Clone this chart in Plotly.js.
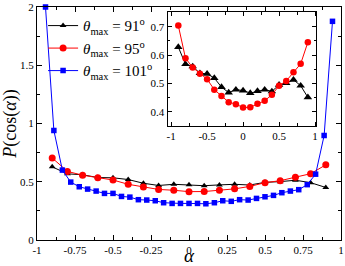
<!DOCTYPE html>
<html>
<head>
<meta charset="utf-8">
<script src="https://cdn.plot.ly/plotly-3.0.1.min.js"></script>
<style>html,body{margin:0;padding:0;background:#fff;}#chart{width:345px;height:266px;}</style>
</head>
<body>
<div id="chart"></div>
<script>
// theta_max = 91 and 95 series (step 0.1)
var alpha10 = [-0.9,-0.8,-0.7,-0.6,-0.5,-0.4,-0.3,-0.2,-0.1,0,0.1,0.2,0.3,0.4,0.5,0.6,0.7,0.8,0.9];
var p91 = [0.628,0.568,0.560,0.536,0.534,0.519,0.487,0.468,0.478,0.475,0.466,0.473,0.478,0.472,0.495,0.501,0.513,0.492,0.451];
var p95 = [0.704,0.589,0.556,0.534,0.515,0.478,0.456,0.434,0.427,0.415,0.416,0.428,0.439,0.460,0.492,0.509,0.539,0.569,0.645];
// theta_max = 101 series
var alpha18 = [-0.944,-0.889,-0.833,-0.778,-0.722,-0.667,-0.611,-0.556,-0.5,-0.444,-0.389,-0.333,-0.278,-0.222,-0.167,-0.111,-0.056,0,
               0.056,0.111,0.167,0.222,0.278,0.333,0.389,0.444,0.5,0.556,0.611,0.667,0.722,0.778,0.833,0.889,0.944];
var p101 = [2.0,0.94,0.60,0.497,0.457,0.437,0.42,0.40,0.40,0.374,0.368,0.346,0.343,0.337,0.32,0.314,0.314,0.314,
            0.314,0.311,0.32,0.337,0.332,0.346,0.343,0.357,0.371,0.383,0.406,0.42,0.432,0.475,0.565,0.897,1.877];

var names = ['<i>θ</i><sub>max</sub> = 91<sup>o</sup>', '<i>θ</i><sub>max</sub> = 95<sup>o</sup>', '<i>θ</i><sub>max</sub> = 101<sup>o</sup>'];
var xTitle = '<i>α</i>';
var yTitle = '<i>P</i>(cos(<i>α</i>))';

var mainXTicks = [-1,-0.75,-0.5,-0.25,0,0.25,0.5,0.75,1];
var mainXLabels = ['-1','-0.75','-0.5','-0.25','0','0.25','0.5','0.75','1'];
var mainYTicks = [0,0.5,1,1.5,2];
var mainYLabels = ['0','0.5','1','1.5','2'];
var insetXTicks = [-1,-0.5,0,0.5,1];
var insetXLabels = ['-1','-0.5','0','0.5','1'];
var insetYTicks = [0.4,0.5,0.6,0.7];
var insetYLabels = ['0.4','0.5','0.6','0.7'];

var FONT = 'Liberation Serif';

var traces = [
  {x: alpha10, y: p91, name: names[0], mode: 'lines+markers', line: {color: '#000', width: 1},
   marker: {symbol: 'triangle-up', size: 6, color: '#000'}},
  {x: alpha10, y: p95, name: names[1], mode: 'lines+markers', line: {color: '#ff0000', width: 1},
   marker: {symbol: 'circle', size: 7, color: '#ff0000'}},
  {x: alpha18, y: p101, name: names[2], mode: 'lines+markers', line: {color: '#0000ff', width: 1},
   marker: {symbol: 'square', size: 5.5, color: '#0000ff'}, cliponaxis: false},
  {x: alpha10, y: p91, xaxis: 'x2', yaxis: 'y2', showlegend: false, mode: 'lines+markers',
   line: {color: '#000', width: 1}, marker: {symbol: 'triangle-up', size: 7.5, color: '#000'}},
  {x: alpha10, y: p95, xaxis: 'x2', yaxis: 'y2', showlegend: false, mode: 'lines+markers',
   line: {color: '#ff0000', width: 1}, marker: {symbol: 'circle', size: 6.5, color: '#ff0000'}}
];

var axisBase = {
  showline: true, linecolor: '#000', linewidth: 1, mirror: 'ticks',
  ticks: 'inside', ticklen: 5, tickwidth: 1, tickcolor: '#000',
  showgrid: false, zeroline: false, tickmode: 'array',
  tickfont: {family: FONT, size: 11, color: '#000'}
};
function ax(extra) { return Object.assign({}, axisBase, extra); }

var layout = {
  width: 345, height: 266,
  margin: {l: 37, r: 4, t: 7, b: 26, pad: 0},
  paper_bgcolor: '#fff', plot_bgcolor: '#fff',
  font: {family: FONT, color: '#000'},
  showlegend: true,
  legend: {x: 0.02, y: 0.99, xanchor: 'left', yanchor: 'top', bgcolor: 'rgba(0,0,0,0)',
           font: {family: FONT, size: 15, color: '#000'}, itemwidth: 30, tracegroupgap: 0},
  xaxis: ax({range: [-1, 1], tickvals: mainXTicks, ticktext: mainXLabels,
             minor: {dtick: 0.125, ticks: 'inside', ticklen: 3, tickcolor: '#000'},
             title: {text: xTitle, font: {family: FONT, size: 19, color: '#000'}, standoff: 4}}),
  yaxis: ax({range: [0, 2], tickvals: mainYTicks, ticktext: mainYLabels,
             minor: {dtick: 0.25, ticks: 'inside', ticklen: 3, tickcolor: '#000'},
             title: {text: yTitle, font: {family: FONT, size: 18, color: '#000'}, standoff: 4}}),
  xaxis2: ax({domain: [0.4293, 0.9194], anchor: 'y2', range: [-1.05, 1.02],
              tickvals: insetXTicks, ticktext: insetXLabels, ticklen: 4,
              minor: {dtick: 0.25, ticks: 'inside', ticklen: 2.5, tickcolor: '#000'}}),
  yaxis2: ax({domain: [0.4893, 0.9764], anchor: 'x2', range: [0.35, 0.75],
              tickvals: insetYTicks, ticktext: insetYLabels, ticklen: 4,
              minor: {dtick: 0.05, ticks: 'inside', ticklen: 2.5, tickcolor: '#000'}})
};

Plotly.newPlot('chart', traces, layout, {staticPlot: true, displayModeBar: false});
</script>
</body>
</html>
